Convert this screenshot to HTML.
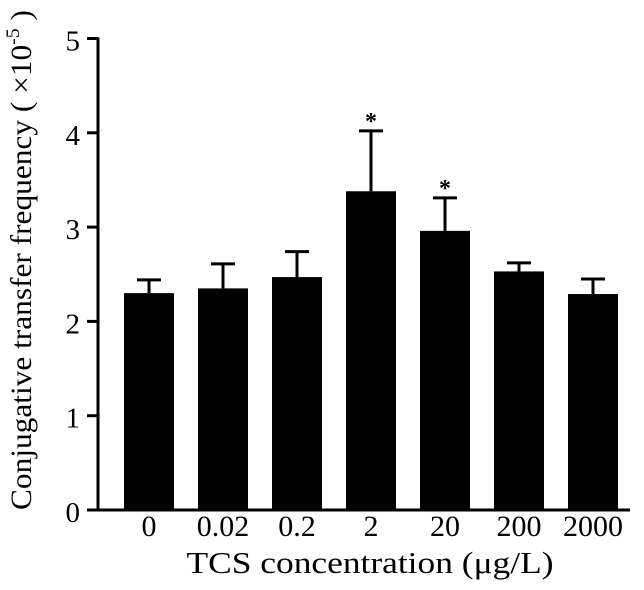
<!DOCTYPE html>
<html><head><meta charset="utf-8"><style>
body{margin:0;background:#fff}
svg text{font-family:"Liberation Serif",serif;fill:#000}
</style></head><body>
<svg width="644" height="585">
<g id="g"></g>
</svg>
<script>
const categories=["0","0.02","0.2","2","20","200","2000"];
const values=[2.30,2.35,2.47,3.38,2.96,2.53,2.29];
const errors=[0.14,0.26,0.27,0.64,0.35,0.09,0.16];
const significant=[false,false,false,true,true,false,false];
const yTicks=[0,1,2,3,4,5];
const NS="http://www.w3.org/2000/svg";
const g=document.getElementById('g');
const x0=98,yBase=510,unit=94.3,step=74,bw=50,first=124,xEnd=630;
const y=v=>yBase-v*unit;
const bx=i=>first+i*step;
function el(t,a,txt){const e=document.createElementNS(NS,t);for(const k in a)e.setAttribute(k,a[k]);if(txt!==undefined)e.textContent=txt;g.appendChild(e);return e;}
values.forEach((v,i)=>{
 const cx=bx(i)+bw/2, et=y(v+errors[i]);
 const l=el('line',{x1:cx,x2:cx,y1:y(v),y2:et,stroke:'#000','stroke-width':3});
 
 
 const c=el('line',{x1:cx-12,x2:cx+12,y1:et,y2:et,stroke:'#000','stroke-width':3});
 
 
 const r=el('rect',{x:bx(i),y:y(v),width:bw,height:yBase-y(v),fill:'#000'});
 
 
 if(significant[i]){
  const s=el('text',{x:cx,y:et-2,'text-anchor':'middle','font-size':24,'font-weight':'bold'},'*');
  
  
 }
 const t=el('text',{x:cx,y:yBase+26,'text-anchor':'middle','font-size':30},categories[i]);
 
 
});
const ya=el('line',{x1:x0,x2:x0,y1:y(5)-1,y2:yBase+1.5,stroke:'#000','stroke-width':3});


const xa=el('line',{x1:x0-1.5,x2:xEnd,y1:yBase,y2:yBase,stroke:'#000','stroke-width':3});


yTicks.forEach(v=>{
 const k=el('line',{x1:x0-11,x2:x0,y1:y(v),y2:y(v),stroke:'#000','stroke-width':3});
 
 
 const t=el('text',{x:x0-18,y:y(v)+12,'text-anchor':'end','font-size':29},v);
 
 
});
const xt=el('text',{x:370,y:573,'text-anchor':'middle','font-size':31,textLength:367,lengthAdjust:'spacingAndGlyphs'},'TCS concentration (μg/L)');


const yt=el('text',{x:0,y:0,'text-anchor':'middle','font-size':30,textLength:500,lengthAdjust:'spacingAndGlyphs',transform:'translate(31,260) rotate(-90)'});


yt.innerHTML='Conjugative transfer frequency ( ×10<tspan dy="-12" font-size="19">-5</tspan><tspan dy="12"> )</tspan>';
</script>
</body></html>
